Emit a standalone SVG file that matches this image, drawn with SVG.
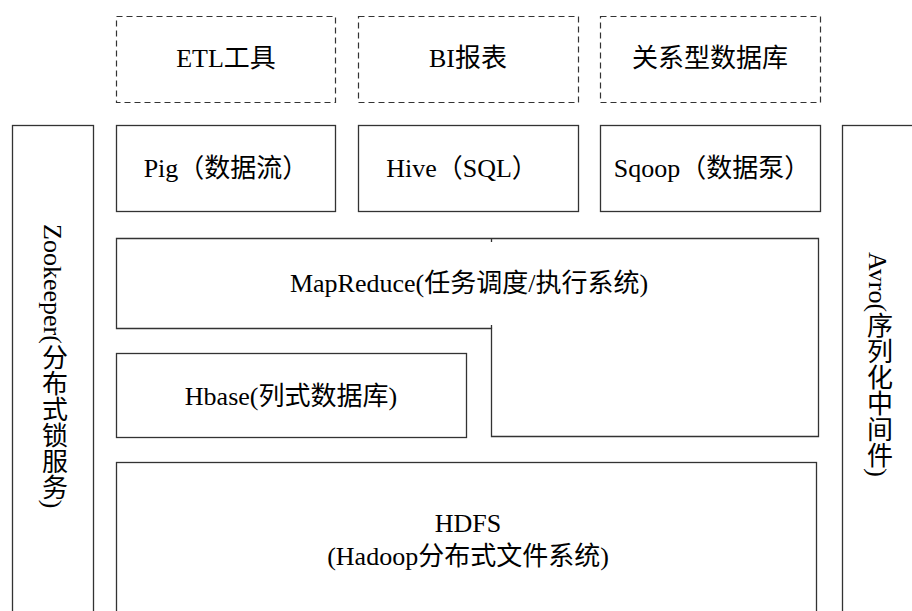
<svg xmlns="http://www.w3.org/2000/svg" width="912" height="611" viewBox="0 0 912 611">
  <style>
    .box { fill: #fff; stroke: #333; stroke-width: 1.3; }
    .dash { fill: #fff; stroke: #333; stroke-width: 1.2; stroke-dasharray: 6 4; }
    .t { font-family: "Liberation Serif", "Noto Sans CJK SC", serif; font-size: 26px; fill: #000; text-anchor: middle; }
    .v { font-family: "Liberation Serif", "Noto Sans CJK SC", serif; font-size: 26px; fill: #000; writing-mode: vertical-rl; text-orientation: mixed; }
  </style>
  <rect width="912" height="611" fill="#fff"/>

  <!-- external tools (dashed) -->
  <g id="etl"><rect class="dash" x="116.5" y="16.5" width="219" height="86"/><text class="t" x="226" y="67">ETL工具</text></g>
  <g id="bi"><rect class="dash" x="358.5" y="16.5" width="220" height="86"/><text class="t" x="468" y="67">BI报表</text></g>
  <g id="rdb"><rect class="dash" x="600.5" y="16.5" width="220" height="86"/><text class="t" x="710" y="67">关系型数据库</text></g>

  <!-- side services -->
  <g id="zookeeper"><rect class="box" x="12.5" y="125.5" width="81" height="500"/><text class="v" x="52" y="224">Zookeeper(分布式锁服务)</text></g>
  <g id="avro"><rect class="box" x="842.5" y="125.5" width="100" height="500"/><text class="v" x="877" y="252">Avro(序列化中间件)</text></g>

  <!-- access layer -->
  <g id="pig"><rect class="box" x="116.5" y="125.5" width="219" height="86"/><text class="t" x="226" y="177">Pig（数据流）</text></g>
  <g id="hive"><rect class="box" x="358.5" y="125.5" width="220" height="86"/><text class="t" x="462" y="177">Hive（SQL）</text></g>
  <g id="sqoop"><rect class="box" x="600.5" y="125.5" width="220" height="86"/><text class="t" x="712" y="177">Sqoop（数据泵）</text></g>

  <!-- MapReduce (L-shaped) -->
  <g id="mapreduce">
    <path class="box" d="M116.5 238.5 H818.5 V436.5 H491.5 V328.5 H116.5 Z"/>
    <path d="M491.5 238.5 V242 M491.5 328.5 V325" stroke="#333" stroke-width="1.3" fill="none"/>
    <text class="t" x="469" y="292">MapReduce(任务调度/执行系统)</text>
  </g>

  <g id="hbase"><rect class="box" x="116.5" y="353.5" width="350" height="84"/><text class="t" x="291" y="405">Hbase(列式数据库)</text></g>

  <g id="hdfs">
    <rect class="box" x="116.5" y="462.5" width="700" height="170"/>
    <text class="t" x="468" y="532">HDFS</text>
    <text class="t" x="468" y="565">(Hadoop分布式文件系统)</text>
  </g>

  <g id="connectors"></g>
</svg>
